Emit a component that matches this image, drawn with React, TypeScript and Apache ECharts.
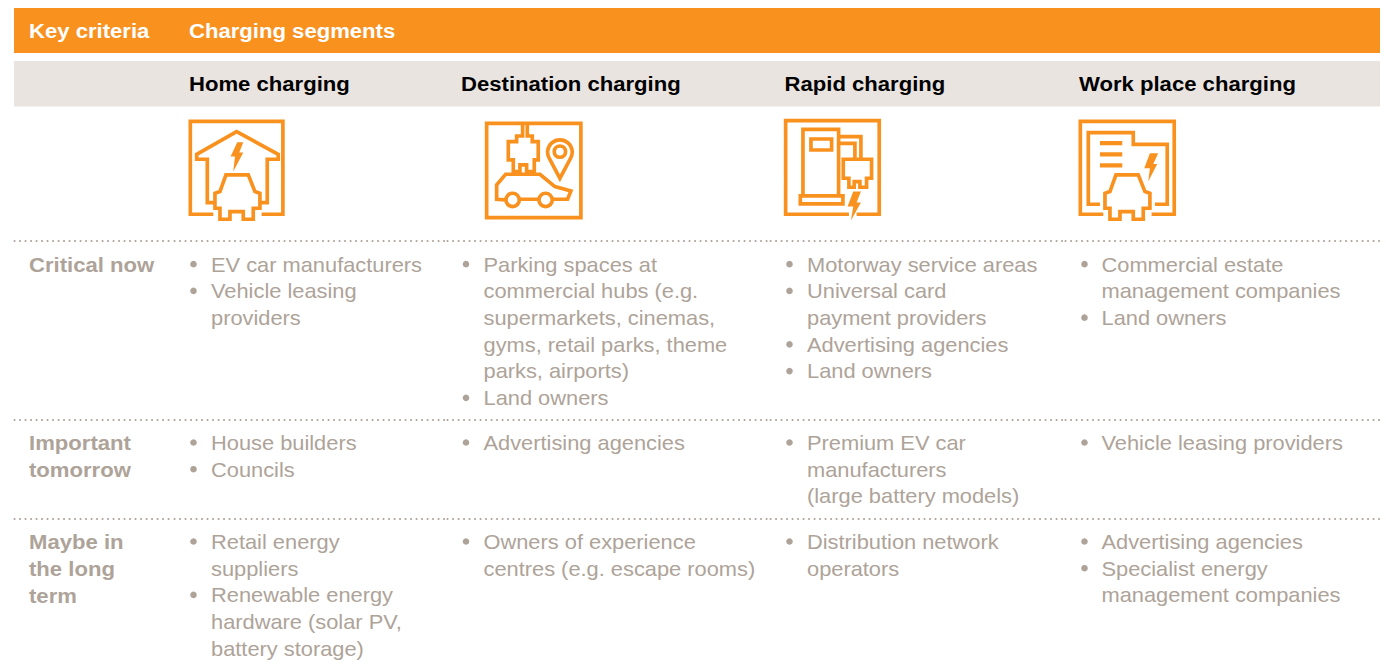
import React, { useEffect, useRef } from "react";
import * as echarts from "echarts";

const headerLeft = "Key criteria";
const headerMain = "Charging segments";
const segments = ["Home charging", "Destination charging", "Rapid charging", "Work place charging"];
const criteria: string[][] = [["Critical now"], ["Important", "tomorrow"], ["Maybe in", "the long", "term"]];
// each cell: list of bullets; each bullet: list of wrapped lines
const cells: string[][][][] = [
  [
    [["EV car manufacturers"], ["Vehicle leasing", "providers"]],
    [["Parking spaces at", "commercial hubs (e.g.", "supermarkets, cinemas,", "gyms, retail parks, theme", "parks, airports)"], ["Land owners"]],
    [["Motorway service areas"], ["Universal card", "payment providers"], ["Advertising agencies"], ["Land owners"]],
    [["Commercial estate", "management companies"], ["Land owners"]],
  ],
  [
    [["House builders"], ["Councils"]],
    [["Advertising agencies"]],
    [["Premium EV car", "manufacturers", "(large battery models)"]],
    [["Vehicle leasing providers"]],
  ],
  [
    [["Retail energy", "suppliers"], ["Renewable energy", "hardware (solar PV,", "battery storage)"]],
    [["Owners of experience", "centres (e.g. escape rooms)"]],
    [["Distribution network", "operators"]],
    [["Advertising agencies"], ["Specialist energy", "management companies"]],
  ],
];

const ORANGE = "#F9911F";
const BAND = "#E9E4E0";
const GREY = "#AEA399";
const FONT = '"Liberation Sans", Arial, sans-serif';
const SIZE = 21;
const SCALE_BODY = 1.04;
const SCALE_BOLD = 1.053;
const LINE_H = 26.72;
const colX = [189, 461, 784.5, 1079];
const bulletX = [193.5, 466, 789.5, 1084.5];
const textX = [211, 483.5, 807, 1101.5];
const rowY = [264.7, 443, 542];
const ruleY = [241, 420, 519];
const ruleBreaks = [14, 174, 447, 770, 1065, 1380];

const CAR = "M105 295 L105 250 L120 245 L138 195 L205 195 L225 245 L240 250 L240 295 L220 295 L220 328 L190 328 L190 305 L150 305 L150 328 L120 328 L120 295 Z";
const iconStroke: Record<string, string> = {
  ic1: "M100 313 L31 313 L31 34 L309 34 L309 313 L245 313 M105 278 L82 278 L82 148 L50 148 L50 133 L170 65 L295 133 L295 148 L262 148 L262 278 L240 278 " + CAR,
  ic2: "M35 40 L318 40 L318 323 L35 323 Z M143 40 L143 78 L125 78 L125 95 L100 95 L100 150 L115 150 L115 185 L135 185 L135 165 L155 165 L155 185 L178 185 L178 150 L190 150 L190 95 L172 95 L172 78 L157 78 L157 40 " +
    "M255 205 L224 147 A37 37 0 1 1 286 147 Z M272 125 A17 17 0 1 1 238 125 A17 17 0 1 1 272 125 Z " +
    "M92 270 L65 268 L65 225 L92 193 L195 193 L240 230 L288 243 L278 268 L232 268 M133 268 L192 268 M133 270 A20 20 0 1 1 93 270 A20 20 0 1 1 133 270 Z M232 270 A20 20 0 1 1 192 270 A20 20 0 1 1 232 270 Z",
  ic3: "M222 313 L32 313 L32 32 L313 32 L313 313 L245 313 M84 258 L84 58 L191 58 L191 258 M76 258 L204 258 L204 282 L76 282 Z M108 87 L170 87 L170 120 L108 120 Z M195 80 L258 80 L258 148 M195 100 L240 100 L240 148 " +
    "M205 148 L290 148 L290 205 L275 205 L275 232 L255 232 L255 215 L238 215 L238 232 L222 232 L222 205 L205 205 Z",
  ic4: "M100 313 L31 313 L31 34 L313 34 L313 313 L245 313 M90 283 L55 283 L55 68 L190 68 L190 103 L292 103 L292 283 L255 283 " + CAR,
};
const iconFill: Record<string, string> = {
  if1: "M172 97 L190 97 L178 128 L190 128 L160 185 L165 140 L152 140 Z",
  if3: "M235 245 L258 245 L245 278 L258 278 L228 332 L235 290 L218 290 Z",
  if4: "M240 130 L265 130 L250 162 L262 162 L235 215 L240 175 L223 175 Z M90 93 L157 93 L157 106 L90 106 Z M90 127 L157 127 L157 140 L90 140 Z M90 160 L157 160 L157 173 L90 173 Z",
};
const iconOrigin: [string, string | null, number, number][] = [
  ["ic1", "if1", 180, 110],
  ["ic2", null, 475, 110],
  ["ic3", "if3", 775, 110],
  ["ic4", "if4", 1070, 110],
];

Object.entries({ ...iconStroke, ...iconFill }).forEach(([k, d]) => {
  echarts.graphic.registerShape(k, echarts.graphic.extendPath(d, {}) as any);
});

function txt(x: number, y: number, text: string, weight: string, fill: string) {
  return {
    type: "text",
    x,
    y,
    scaleX: weight === "bold" ? SCALE_BOLD : SCALE_BODY,
    silent: true,
    style: { text, fill, font: `${weight} ${SIZE}px ${FONT}`, textAlign: "left", textVerticalAlign: "middle" },
  };
}

export default function App() {
  const ref = useRef<HTMLDivElement>(null);
  useEffect(() => {
    const els: any[] = [];
    els.push({ type: "rect", shape: { x: 14, y: 8, width: 1366, height: 45 }, style: { fill: ORANGE } });
    els.push({ type: "rect", shape: { x: 14, y: 61, width: 1366, height: 45.5 }, style: { fill: BAND } });
    els.push(txt(29, 30.6, headerLeft, "bold", "#FFFFFF"));
    els.push(txt(colX[0], 30.6, headerMain, "bold", "#FFFFFF"));
    segments.forEach((s, i) => els.push(txt(colX[i], 83.6, s, "bold", "#000000")));
    iconOrigin.forEach(([st, fi, x, y]) => {
      els.push({ type: st, x, y, scaleX: 1 / 3, scaleY: 1 / 3, style: { fill: "none", stroke: ORANGE, lineWidth: 11 } });
      if (fi) els.push({ type: fi, x, y, scaleX: 1 / 3, scaleY: 1 / 3, style: { fill: ORANGE } });
    });
    ruleY.forEach((y) => {
      for (let i = 0; i < ruleBreaks.length - 1; i++) {
        els.push({
          type: "line",
          shape: { x1: ruleBreaks[i] + 0.5, y1: y, x2: ruleBreaks[i + 1], y2: y },
          style: { stroke: GREY, lineWidth: 2, lineDash: [0.1, 5.4], lineCap: "round" },
        });
      }
    });
    criteria.forEach((lines, r) => {
      lines.forEach((l, k) => els.push(txt(29, rowY[r] + k * LINE_H, l, "bold", GREY)));
    });
    cells.forEach((row, r) => {
      row.forEach((cell, c) => {
        let n = 0;
        cell.forEach((bullet) => {
          els.push({ type: "circle", shape: { cx: bulletX[c], cy: rowY[r] - 0.5 + n * LINE_H, r: 3.3 }, style: { fill: GREY } });
          bullet.forEach((line) => {
            els.push(txt(textX[c], rowY[r] + n * LINE_H, line, "normal", GREY));
            n++;
          });
        });
      });
    });
    const chart = echarts.init(ref.current!, null, { renderer: "svg" });
    chart.setOption({ animation: false, graphic: { elements: els } });
    return () => chart.dispose();
  }, []);
  return <div ref={ref} style={{ position: "absolute", left: 0, top: 0, width: 1386, height: 667, background: "#fff" }} />;
}
